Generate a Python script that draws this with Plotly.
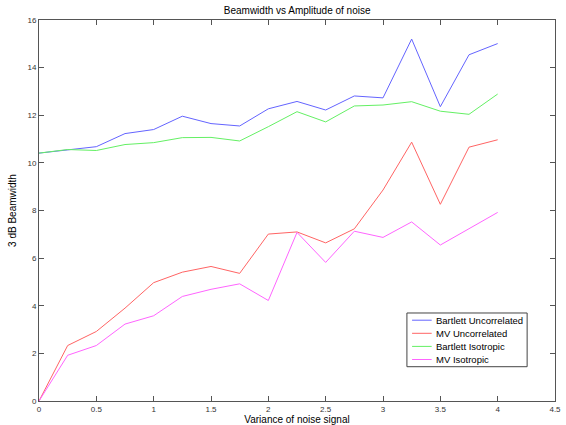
import plotly.graph_objects as go

# Noise variance (x) and 3 dB beamwidth for each beamformer / noise model
variance = [0, 0.25, 0.5, 0.75, 1.0, 1.25, 1.5, 1.75, 2.0, 2.25, 2.5, 2.75, 3.0, 3.25, 3.5, 3.75, 4.0]

bartlett_uncorrelated = [10.41, 10.55, 10.68, 11.23, 11.40, 11.96, 11.65, 11.55, 12.27, 12.58,
                         12.22, 12.81, 12.73, 15.2, 12.36, 14.54, 15.01]
mv_uncorrelated = [0.0, 2.33, 2.92, 3.9, 4.97, 5.41, 5.65, 5.36, 7.01, 7.1,
                   6.64, 7.23, 8.86, 10.87, 8.26, 10.66, 10.97]
bartlett_isotropic = [10.41, 10.56, 10.52, 10.77, 10.85, 11.06, 11.07, 10.92, 11.52, 12.15,
                      11.72, 12.39, 12.43, 12.57, 12.17, 12.04, 12.89]
mv_isotropic = [0.0, 1.92, 2.33, 3.23, 3.58, 4.39, 4.69, 4.92, 4.22, 7.08,
                5.82, 7.13, 6.87, 7.52, 6.55, 7.23, 7.92]

series_names = ["Bartlett Uncorrelated", "MV Uncorrelated", "Bartlett Isotropic", "MV Isotropic"]
series_values = [bartlett_uncorrelated, mv_uncorrelated, bartlett_isotropic, mv_isotropic]
series_colors = ["#6464ff", "#ff6464", "#64f064", "#ff64ff"]

x_ticks = [0, 0.5, 1, 1.5, 2, 2.5, 3, 3.5, 4, 4.5]
x_tick_labels = ["0", "0.5", "1", "1.5", "2", "2.5", "3", "3.5", "4", "4.5"]
y_ticks = [0, 2, 4, 6, 8, 10, 12, 14, 16]
y_tick_labels = ["0", "2", "4", "6", "8", "10", "12", "14", "16"]

FONT = "Liberation Sans, Arial, Helvetica, sans-serif"
AXIS_COLOR = "#555555"

fig = go.Figure()
for name, values, color in zip(series_names, series_values, series_colors):
    fig.add_trace(go.Scatter(
        x=variance, y=values, mode="lines", name=name,
        line=dict(color=color, width=1), showlegend=False,
    ))

axis_common = dict(
    showgrid=False, zeroline=False, showline=True, linecolor=AXIS_COLOR, linewidth=1,
    mirror="ticks", ticks="inside", ticklen=5, tickcolor=AXIS_COLOR, tickwidth=1,
    tickfont=dict(family=FONT, size=8, color="#333333"), automargin=False,
)

fig.update_layout(
    width=566, height=425,
    margin=dict(l=39, r=11, t=20, b=24),
    paper_bgcolor="white", plot_bgcolor="white",
    title=dict(text="Beamwidth vs Amplitude of noise", x=0.525, xanchor="center",
               y=1 - 10 / 425, yanchor="middle",
               font=dict(family=FONT, size=10, color="black")),
    xaxis=dict(range=[0, 4.5], tickvals=x_ticks, ticktext=x_tick_labels,
               title=dict(text="Variance of noise signal", standoff=1,
                          font=dict(family=FONT, size=10, color="black")),
               **axis_common),
    yaxis=dict(range=[0, 16], tickvals=y_ticks, ticktext=y_tick_labels,
               title=dict(text="3 dB Beamwidth", standoff=8,
                          font=dict(family=FONT, size=10, color="black")),
               **axis_common),
)

# Legend box drawn in the lower right of the axes (axes-fraction coordinates)
leg_x0, leg_x1 = 0.713, 0.946
leg_y0, leg_y1 = 0.090, 0.231
fig.add_shape(type="rect", xref="x domain", yref="y domain",
              x0=leg_x0, x1=leg_x1, y0=leg_y0, y1=leg_y1,
              line=dict(color="#444444", width=1), fillcolor="white", layer="above")
n = len(series_names)
step = (leg_y1 - leg_y0) / (n + 0.1)
for i, (name, color) in enumerate(zip(series_names, series_colors)):
    yc = leg_y1 - step * (i + 0.55)
    fig.add_shape(type="line", xref="x domain", yref="y domain",
                  x0=leg_x0 + 0.010, x1=leg_x0 + 0.048, y0=yc, y1=yc,
                  line=dict(color=color, width=1), layer="above")
    fig.add_annotation(xref="x domain", yref="y domain", x=leg_x0 + 0.052, y=yc,
                       text=name, showarrow=False, xanchor="left", yanchor="middle",
                       font=dict(family=FONT, size=9.5, color="black"))

fig.write_html("out.html")
